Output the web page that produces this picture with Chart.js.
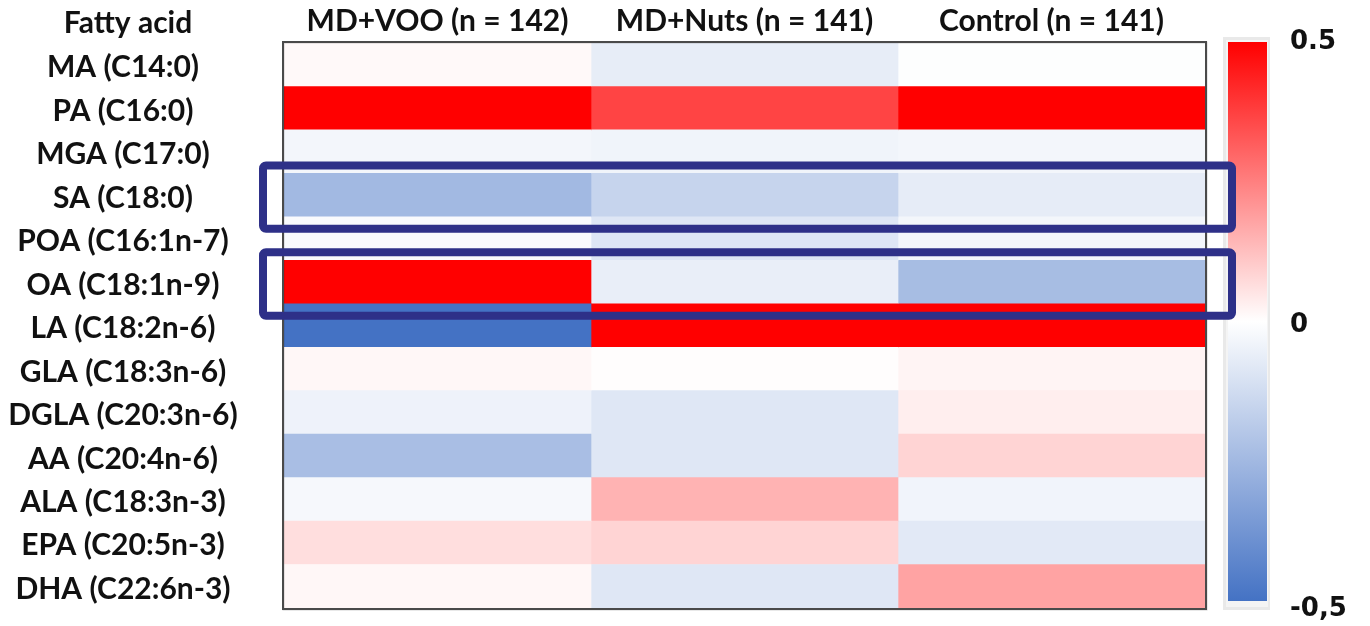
<!DOCTYPE html>
<html>
<head>
<meta charset="utf-8">
<script src="https://cdn.jsdelivr.net/npm/chart.js@4.4.1/dist/chart.umd.min.js"></script>
<style>
  html, body { margin: 0; padding: 0; background: #ffffff; }
  #wrap { width: 1370px; height: 626px; position: relative; }
</style>
</head>
<body>
<div id="wrap"><canvas id="heatmap"></canvas></div>
<script>
// Rows of the heat map (fatty acids) and its three columns (study arms)
const fattyAcids = [
  'MA (C14:0)', 'PA (C16:0)', 'MGA (C17:0)', 'SA (C18:0)', 'POA (C16:1n-7)',
  'OA (C18:1n-9)', 'LA (C18:2n-6)', 'GLA (C18:3n-6)', 'DGLA (C20:3n-6)',
  'AA (C20:4n-6)', 'ALA (C18:3n-3)', 'EPA (C20:5n-3)', 'DHA (C22:6n-3)'
];
const groups = ['MD+VOO (n = 142)', 'MD+Nuts (n = 141)', 'Control (n = 141)'];

// Correlation values per arm, one entry per fatty acid
const mdVoo   = [0.012, 0.50, -0.032, -0.25, -0.016, 0.50, -0.50, 0.015, -0.045, -0.23, -0.025, 0.065, 0.015];
const mdNuts  = [-0.064, 0.367, -0.040, -0.152, -0.088, -0.060, 0.50, 0.003, -0.085, -0.085, 0.15, 0.085, -0.085];
const control = [-0.005, 0.50, -0.032, -0.067, -0.032, -0.235, 0.50, 0.022, 0.033, 0.085, -0.038, -0.078, 0.18];

// Colour scale limits and its tick labels
const scaleMin = -0.5;
const scaleMax = 0.5;
const scaleTickValues = [0.5, 0, -0.5];
const scaleTickLabels = ['0.5', '0', '-0,5'];

// Rows framed by the navy outline
const highlighted = ['SA (C18:0)', 'OA (C18:1n-9)'];

const series = [mdVoo, mdNuts, control];

const LABEL_FONT = { family: 'Lato', size: 30, weight: 'bold' };
const TEXT_COLOR = '#111111';
const PLOT_LEFT = 284;
const PLOT_TOP = 43;
const LABEL_CENTER_X = 131;
const HEADER_CENTER_X = 128;

const RED = [255, 0, 0];
const BLUE = [68, 114, 196];
function cellColor(v) {
  const t = Math.max(-1, Math.min(1, v / scaleMax));
  const end = t >= 0 ? RED : BLUE;
  const a = Math.abs(t);
  const c = end.map(e => Math.round(255 + (e - 255) * a));
  return `rgb(${c[0]},${c[1]},${c[2]})`;
}

// centre the row labels on a fixed x by measuring the widest one
const measureCtx = document.createElement('canvas').getContext('2d');
measureCtx.font = `bold ${LABEL_FONT.size}px ${LABEL_FONT.family}`;
const widestLabel = Math.max(...fattyAcids.map(s => measureCtx.measureText(s).width));
const yTickPadding = PLOT_LEFT - LABEL_CENTER_X - widestLabel / 2;

const frameAndHeader = {
  id: 'frameAndHeader',
  afterDatasetsDraw(chart) {
    const { ctx, chartArea: a } = chart;
    ctx.save();
    // plot frame
    ctx.strokeStyle = 'rgba(0,0,0,0.18)';
    ctx.lineWidth = 2;
    ctx.strokeRect(a.left - 0.5, a.top - 0.5, a.right - a.left + 2, a.bottom - a.top + 2);
    ctx.strokeStyle = '#4a4a4a';
    ctx.lineWidth = 2;
    ctx.strokeRect(a.left - 1, a.top - 1, a.right - a.left + 2, a.bottom - a.top + 2);

    // header above the row labels
    ctx.fillStyle = TEXT_COLOR;
    ctx.font = `bold ${LABEL_FONT.size}px ${LABEL_FONT.family}`;
    ctx.textAlign = 'center';
    ctx.textBaseline = 'middle';
    ctx.fillText('Fatty acid', HEADER_CENTER_X, 23);
    ctx.restore();
  },
  afterDraw(chart) {
    const { ctx, chartArea: a, scales } = chart;
    // colour bar
    const barLeft = a.right + 23;
    const barRight = a.right + 62;
    const barTop = a.top - 1;
    const barBottom = a.bottom - 7;
    ctx.save();
    ctx.fillStyle = '#e9e9e9';
    ctx.fillRect(barLeft - 5, barTop - 5, barRight - barLeft + 8, barBottom - barTop + 14);
    ctx.fillStyle = '#f4f4f4';
    ctx.fillRect(barLeft - 2, barTop - 2, barRight - barLeft + 3, barBottom - barTop + 8);
    const grad = ctx.createLinearGradient(0, barTop, 0, barBottom);
    grad.addColorStop(0, cellColor(scaleMax));
    grad.addColorStop(0.5, cellColor(0));
    grad.addColorStop(1, cellColor(scaleMin));
    ctx.fillStyle = grad;
    ctx.fillRect(barLeft, barTop, barRight - barLeft, barBottom - barTop);

    // colour bar labels
    const labTop = a.top - 1;
    const labBottom = a.bottom + 1;
    ctx.fillStyle = TEXT_COLOR;
    ctx.font = 'bold 26px "DejaVu Sans"';
    ctx.textAlign = 'left';
    ctx.textBaseline = 'middle';
    scaleTickValues.forEach((v, i) => {
      const ly = labBottom - (v - scaleMin) / (scaleMax - scaleMin) * (labBottom - labTop);
      ctx.fillText(scaleTickLabels[i], a.right + 85, ly);
    });

    // navy outlines around the highlighted rows
    const y = scales.y;
    const rowH = (a.bottom - a.top) / fattyAcids.length;
    ctx.strokeStyle = '#2e3088';
    ctx.lineWidth = 8;
    ctx.lineJoin = 'round';
    highlighted.forEach(name => {
      const cy = y.getPixelForValue(fattyAcids.indexOf(name));
      const top = cy - rowH / 2 - 8;
      const bottom = cy + rowH / 2 + 12;
      const left = a.left - 21;
      const right = a.right + 27;
      ctx.beginPath();
      ctx.roundRect(left, top, right - left, bottom - top, 3);
      ctx.stroke();
    });
    ctx.restore();
  }
};

new Chart(document.getElementById('heatmap'), {
  type: 'bar',
  data: {
    labels: fattyAcids,
    datasets: series.map((vals, j) => ({
      label: groups[j],
      data: vals.map(() => [j, j + 1]),
      backgroundColor: vals.map(cellColor),
      borderWidth: 0,
      grouped: false,
      barPercentage: 1,
      categoryPercentage: 1
    }))
  },
  options: {
    indexAxis: 'y',
    responsive: true,
    maintainAspectRatio: false,
    animation: false,
    events: [],
    layout: { padding: { left: 0, top: 0, right: 165, bottom: 18 } },
    plugins: { legend: { display: false }, tooltip: { enabled: false } },
    scales: {
      x: {
        type: 'linear',
        position: 'top',
        min: 0,
        max: groups.length,
        grid: { display: false },
        border: { display: false },
        afterBuildTicks(scale) {
          scale.ticks = groups.map((g, i) => ({ value: i + 0.5 }));
        },
        ticks: {
          autoSkip: false,
          maxRotation: 0,
          padding: -4,
          color: TEXT_COLOR,
          font: LABEL_FONT,
          callback: (value, index) => groups[index]
        },
        afterFit(scale) {
          scale.height = PLOT_TOP;
          scale.paddingLeft = 0;
          scale.paddingRight = 0;
        }
      },
      y: {
        type: 'category',
        offset: true,
        grid: { display: false },
        border: { display: false },
        ticks: {
          autoSkip: false,
          crossAlign: 'center',
          padding: yTickPadding,
          labelOffset: 3,
          color: TEXT_COLOR,
          font: LABEL_FONT
        },
        afterFit(scale) {
          scale.width = PLOT_LEFT;
          scale.paddingTop = 0;
          scale.paddingBottom = 0;
        }
      }
    }
  },
  plugins: [frameAndHeader]
});
</script>
</body>
</html>
